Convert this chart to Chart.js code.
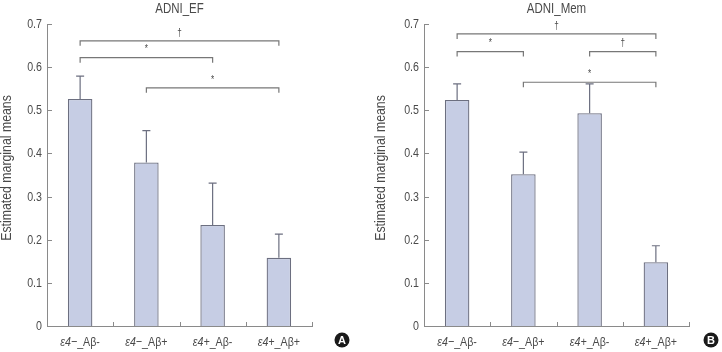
<!DOCTYPE html>
<html>
<head>
<meta charset="utf-8">
<script src="https://cdn.jsdelivr.net/npm/chart.js@4"></script>
<style>
  html, body { margin: 0; padding: 0; background: #fff; }
  #wrap { position: relative; width: 722px; height: 352px; }
  .panel { position: absolute; top: 0; width: 361px; height: 352px; }
</style>
</head>
<body>
<div id="wrap">
  <div class="panel" style="left:0"><canvas id="chart-a" width="361" height="352"></canvas></div>
  <div class="panel" style="left:361px"><canvas id="chart-b" width="361" height="352"></canvas></div>
</div>

<script>
/* ── Data ── */
const categories = ["ε4−_Aβ-", "ε4−_Aβ+", "ε4+_Aβ-", "ε4+_Aβ+"];
const yTicks     = [0, 0.1, 0.2, 0.3, 0.4, 0.5, 0.6, 0.7];

// panel A — ADNI_EF
const efMeans = [0.526, 0.379, 0.234, 0.158];
const efUpper = [0.579, 0.453, 0.331, 0.213];
// brackets: [from category, to category, level, symbol]
const efBrackets = [
  [0, 3, 0.661, "†"],
  [0, 2, 0.622, "*"],
  [1, 3, 0.552, "*"],
];

// panel B — ADNI_Mem
const memMeans = [0.524, 0.352, 0.493, 0.148];
const memUpper = [0.561, 0.403, 0.561, 0.186];
const memBrackets = [
  [0, 3, 0.677, "†"],
  [0, 1, 0.636, "*"],
  [2, 3, 0.636, "†"],
  [1, 3, 0.565, "*"],
];


/* ── Styles ── */
const FONT      = "'Liberation Sans', Arial, sans-serif";
const SQUEEZE   = 0.82;   // fake a condensed face
const TEXT      = "#4a4a4a";
const AXIS      = "#8a8a8a";
const BAR_FILL  = "#c6cde4";
const BAR_EDGE  = "#6c6f80";


/* ── Helpers ── */

// draw text squeezed horizontally, anchored at x by align
function squeezed(ctx, text, x, y, font, align) {
  ctx.save();
  ctx.font = font;
  ctx.textAlign = align;
  ctx.textBaseline = "middle";
  ctx.translate(x, y);
  ctx.scale(SQUEEZE, 1);
  ctx.fillText(text, 0, 0);
  ctx.restore();
}

function squeezedWidth(ctx, text, font) {
  ctx.save();
  ctx.font = font;
  const w = ctx.measureText(text).width * SQUEEZE;
  ctx.restore();
  return w;
}


/* ── Plugin — error bars, brackets, ticks, labels, title, badge ── */
const decor = {
  id: "decor",
  afterDraw(chart, args, opts) {
    const ctx  = chart.ctx;
    const xs   = chart.scales.x;
    const ys   = chart.scales.y;
    const area = chart.chartArea;
    ctx.save();
    ctx.fillStyle = TEXT;

    // inward ticks + labels on y axis
    ctx.strokeStyle = AXIS;
    ctx.lineWidth = 1;
    yTicks.forEach(t => {
      const py = Math.round(ys.getPixelForValue(t)) + 0.5;
      ctx.beginPath();
      ctx.moveTo(area.left, py);
      ctx.lineTo(area.left + 5, py);
      ctx.stroke();
      squeezed(ctx, t === 0 ? "0" : t.toFixed(1), area.left - 5, py, "13px " + FONT, "right");
    });
    // ticks between categories on x axis
    categories.forEach((c, i) => {
      const px = Math.round(xs.getPixelForValue(i + 0.5)) + 0.5;
      ctx.beginPath();
      ctx.moveTo(px, area.bottom);
      ctx.lineTo(px, area.bottom - 4);
      ctx.stroke();
    });

    // error bars (upper only)
    ctx.strokeStyle = BAR_EDGE;
    ctx.lineWidth = 1.2;
    opts.means.forEach((m, i) => {
      const px  = xs.getPixelForValue(i);
      const top = ys.getPixelForValue(opts.upper[i]);
      ctx.beginPath();
      ctx.moveTo(px, ys.getPixelForValue(m));
      ctx.lineTo(px, top);
      ctx.moveTo(px - 4, top);
      ctx.lineTo(px + 4, top);
      ctx.stroke();
    });

    // significance brackets
    ctx.strokeStyle = "#777";
    ctx.lineWidth = 1.2;
    opts.brackets.forEach(([a, b, level, sym]) => {
      const x1 = xs.getPixelForValue(a);
      const x2 = xs.getPixelForValue(b);
      const py = ys.getPixelForValue(level);
      ctx.beginPath();
      ctx.moveTo(x1, py + 5);
      ctx.lineTo(x1, py);
      ctx.lineTo(x2, py);
      ctx.lineTo(x2, py + 5);
      ctx.stroke();
      squeezed(ctx, sym, (x1 + x2) / 2, py - 8, "10px " + FONT, "center");
    });

    // category labels: italic allele part, upright amyloid part
    categories.forEach((c, i) => {
      const cut   = c.indexOf("_");
      const first = c.slice(0, cut);
      const rest  = c.slice(cut);
      const fItal = "italic 13px " + FONT;
      const fNorm = "13px " + FONT;
      const w1 = squeezedWidth(ctx, first, fItal);
      const w2 = squeezedWidth(ctx, rest, fNorm);
      const x0 = xs.getPixelForValue(i) - (w1 + w2) / 2;
      squeezed(ctx, first, x0, 342, fItal, "left");
      squeezed(ctx, rest, x0 + w1, 342, fNorm, "left");
    });

    // title
    squeezed(ctx, opts.title, (area.left + area.right) / 2, 9, "14px " + FONT, "center");

    // y axis label
    ctx.save();
    ctx.translate(opts.yLabelX, 168);
    ctx.rotate(-Math.PI / 2);
    squeezed(ctx, "Estimated marginal means", 0, 0, "15px " + FONT, "center");
    ctx.restore();

    // panel badge
    ctx.fillStyle = "#1a1a1a";
    ctx.beginPath();
    ctx.arc(opts.badgeX, 340, 7.5, 0, Math.PI * 2);
    ctx.fill();
    ctx.fillStyle = "#fff";
    ctx.font = "bold 11px " + FONT;
    ctx.textAlign = "center";
    ctx.textBaseline = "middle";
    ctx.fillText(opts.badge, opts.badgeX, 340.5);

    ctx.restore();
  },
};


/* ── Build one panel ── */
function makePanel(id, means, upper, brackets, cfg) {
  const ctx = document.getElementById(id).getContext("2d");
  return new Chart(ctx, {
    type: "bar",
    data: {
      labels: categories,
      datasets: [{
        data:               means,
        backgroundColor:    BAR_FILL,
        borderColor:        BAR_EDGE,
        borderWidth:        1.3,
        barPercentage:      0.37,
        categoryPercentage: 1,
      }],
    },
    options: {
      responsive: false,
      animation: false,
      layout: { padding: { top: 24, right: cfg.padRight, bottom: 0, left: 0 } },
      plugins: {
        legend:  { display: false },
        tooltip: { enabled: false },
        decor: {
          means, upper, brackets,
          title:   cfg.title,
          badge:   cfg.badge,
          badgeX:  cfg.badgeX,
          yLabelX: cfg.yLabelX,
        },
      },
      scales: {
        x: {
          grid:   { display: false },
          border: { color: AXIS, width: 1 },
          ticks:  { display: false },
          afterFit: s => { s.height = 26; },
        },
        y: {
          min: 0,
          max: 0.7,
          afterBuildTicks: s => { s.ticks = yTicks.map(v => ({ value: v })); },
          grid:   { display: false },
          border: { color: AXIS, width: 1 },
          ticks:  { display: false },
          afterFit: s => { s.width = cfg.axisWidth; },
        },
      },
    },
    plugins: [decor],
  });
}


/* ── Init ── */
makePanel("chart-a", efMeans, efUpper, efBrackets, {
  title: "ADNI_EF", badge: "A", padRight: 49, axisWidth: 47, yLabelX: 7, badgeX: 342,
});
makePanel("chart-b", memMeans, memUpper, memBrackets, {
  title: "ADNI_Mem", badge: "B", padRight: 33, axisWidth: 63, yLabelX: 20, badgeX: 350,
});
</script>
</body>
</html>
